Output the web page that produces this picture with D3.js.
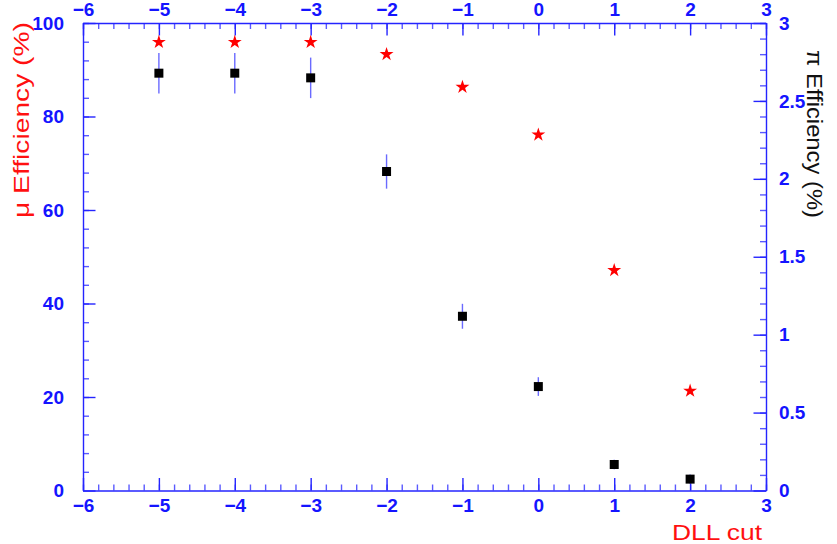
<!DOCTYPE html>
<html>
<head>
<meta charset="utf-8">
<script src="https://cdn.jsdelivr.net/npm/d3@7"></script>
<style>
  body { margin: 0; background: #fff; }
  svg { display: block; font-family: 'Liberation Sans', Arial, sans-serif; }
  .axis path, .axis line { stroke: #2424ff; stroke-width: 1.4; }
  .axis text { fill: #1414ff; font-size: 19px; font-weight: bold; }
  .minor text { display: none; }
  .minor line { stroke: #5a5aff; }
  .title { font-size: 22px; }
</style>
</head>
<body>
<svg id="chart"></svg>
<script>
// DLL cut values
const dllCuts = [-5, -4, -3, -2, -1, 0, 1, 2];
// muon efficiency (%), left axis
const muEff = [95.9, 95.9, 95.9, 93.3, 86.3, 76.1, 47.1, 21.3];
// pion efficiency (%), right axis, with errors
const piEff = [2.678, 2.678, 2.648, 2.047, 1.118, 0.667, 0.167, 0.073];
const piErr = [0.13, 0.13, 0.13, 0.11, 0.08, 0.06, 0.03, 0.03];

const xTicks = [-6, -5, -4, -3, -2, -1, 0, 1, 2, 3];
const yLeftTicks = [0, 20, 40, 60, 80, 100];
const yRightTicks = [0, 0.5, 1, 1.5, 2, 2.5, 3];

const config = {
  width: 837,
  height: 544,
  margin: { top: 23, right: 71, bottom: 53.5, left: 83 },
  get usableWidth() { return this.width - this.margin.left - this.margin.right; },
  get usableHeight() { return this.height - this.margin.top - this.margin.bottom; },
};

const svg = d3.select('#chart').attr('width', config.width).attr('height', config.height);
const g = svg.append('g').attr('transform', `translate(${config.margin.left},${config.margin.top})`);

const x = d3.scaleLinear().domain([-6, 3]).range([0, config.usableWidth]);
const yL = d3.scaleLinear().domain([0, 100]).range([config.usableHeight, 0]);
const yR = d3.scaleLinear().domain([0, 3]).range([config.usableHeight, 0]);

// minor ticks (5 subdivisions of each major step)
const minorX = d3.range(-6, 3.0001, 0.2);
const minorL = d3.range(0, 100.0001, 4);
const minorR = d3.range(0, 3.0001, 0.1);

function drawAxis(axisFn, scale, majors, minors, fmt, transform, pad) {
  g.append('g').attr('class', 'axis minor').attr('transform', transform)
    .call(axisFn(scale).tickValues(minors).tickSize(-6).tickSizeOuter(0).tickFormat(''))
    .select('.domain').remove();
  g.append('g').attr('class', 'axis').attr('transform', transform)
    .call(axisFn(scale).tickValues(majors).tickSize(-12.5).tickSizeOuter(0).tickPadding(pad).tickFormat(fmt));
}

const fmtMinus = d => (d < 0 ? '\u2212' + Math.abs(d) : d);
drawAxis(d3.axisBottom, x, xTicks, minorX, fmtMinus, `translate(0,${config.usableHeight})`, 8);
drawAxis(d3.axisTop, x, xTicks, minorX, fmtMinus, 'translate(0,0)', 7);
drawAxis(d3.axisLeft, yL, yLeftTicks, minorL, d => d, 'translate(0,0)', 19);
drawAxis(d3.axisRight, yR, yRightTicks, minorR, d => d, `translate(${config.usableWidth},0)`, 13);

// error bars for pion efficiency
g.selectAll('.err').data(dllCuts).enter().append('line')
  .attr('class', 'err')
  .attr('x1', d => x(d)).attr('x2', d => x(d))
  .attr('y1', (d, i) => yR(piEff[i] + piErr[i]))
  .attr('y2', (d, i) => yR(piEff[i] - piErr[i]))
  .attr('stroke', '#6a6aff').attr('stroke-width', 1.4);

// pion squares
g.selectAll('.pi').data(dllCuts).enter().append('path')
  .attr('class', 'pi')
  .attr('d', d3.symbol(d3.symbolSquare, 81))
  .attr('transform', (d, i) => `translate(${x(d)},${yR(piEff[i])})`)
  .attr('fill', '#000');

// muon stars
g.selectAll('.mu').data(dllCuts).enter().append('path')
  .attr('class', 'mu')
  .attr('d', d3.symbol(d3.symbolStar, 60))
  .attr('transform', (d, i) => `translate(${x(d)},${yL(muEff[i])})`)
  .attr('fill', '#ff0000');

// axis titles
svg.append('text').attr('class', 'title')
  .attr('transform', 'translate(29,218) rotate(-90)')
  .attr('fill', '#ff1010')
  .attr('textLength', 196).attr('lengthAdjust', 'spacingAndGlyphs')
  .text('\u03bc Efficiency (%)');

svg.append('text').attr('class', 'title')
  .attr('transform', 'translate(807,218) rotate(90)')
  .attr('text-anchor', 'end')
  .attr('fill', '#111')
  .attr('textLength', 168).attr('lengthAdjust', 'spacingAndGlyphs')
  .text('\u03c0 Efficiency (%)');

svg.append('text').attr('class', 'title')
  .attr('x', 762).attr('y', 540)
  .attr('text-anchor', 'end')
  .attr('fill', '#ff1010')
  .attr('textLength', 90).attr('lengthAdjust', 'spacingAndGlyphs')
  .text('DLL cut');
</script>
</body>
</html>
